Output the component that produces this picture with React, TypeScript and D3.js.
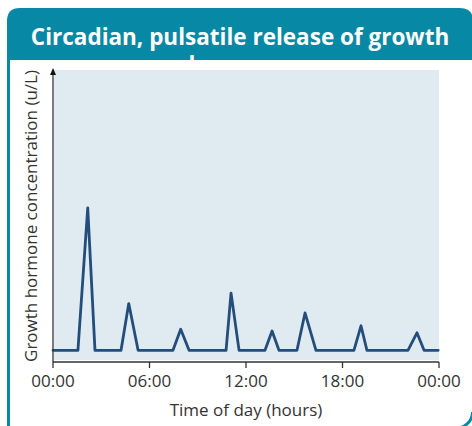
import React, { useEffect, useRef } from "react";
import * as d3 from "d3";

// time of day (hours) and GH concentration (arbitrary units)
const hours = [
  0, 1.55, 2.16, 2.61, 4.23, 4.71, 5.29, 7.46, 7.94, 8.46, 10.76, 11.07, 11.57,
  13.18, 13.62, 14.05, 15.17, 15.67, 16.35, 18.71, 19.15, 19.52, 22.07, 22.63,
  23.07, 23.95,
];
const concentration = [
  1, 1, 13.2, 1, 1, 5.0, 1, 1, 2.8, 1, 1, 5.9, 1, 1, 2.65, 1, 1, 4.2, 1, 1, 3.1,
  1, 1, 2.5, 1, 1,
];
const tickHours = [0, 6, 12, 18, 24];
const tickLabels = ["00:00", "06:00", "12:00", "18:00", "00:00"];

const W = 472;
const H = 426;
const TEAL = "#0788a4";
const FONT = "'Open Sans', 'Noto Sans', sans-serif";

const App = () => {
  const ref = useRef<SVGSVGElement>(null);

  useEffect(() => {
    const svg = d3.select(ref.current);
    svg.selectAll("*").remove();

    // header: teal box with rounded top corners
    const r = 13;
    svg.append("path")
      .attr("d", `M7,60 V${8 + r} Q7,8 ${7 + r},8 H${473 - r} Q473,8 473,${8 + r} V60 Z`)
      .attr("fill", TEAL);

    svg.append("text")
      .attr("x", 240).attr("y", 45)
      .attr("text-anchor", "middle")
      .attr("fill", "#fff")
      .style("font", `bold 22.5px ${FONT}`)
      .text("Circadian, pulsatile release of growth");
    // second title line, mostly hidden under the panel
    svg.append("text")
      .attr("x", 240).attr("y", 73)
      .attr("text-anchor", "middle")
      .attr("fill", "#fff")
      .style("font", `bold 22.5px ${FONT}`)
      .text("hormone");
    svg.append("rect")
      .attr("x", 10).attr("y", 60)
      .attr("width", 462).attr("height", 30)
      .attr("fill", "#fff");

    // left border and the bottom-right corner of the card
    svg.append("rect")
      .attr("x", 7).attr("y", 40)
      .attr("width", 3).attr("height", 400)
      .attr("fill", TEAL);
    svg.append("path")
      .attr("d", "M472.5,412 A16,16 0 0 1 456.5,428")
      .attr("fill", "none")
      .attr("stroke", TEAL)
      .attr("stroke-width", 3);

    const x = d3.scaleLinear().domain([0, 24]).range([53, 439]);
    const y = d3.scaleLinear().domain([0, 25]).range([362, 70]);

    const g = svg.append("g");

    g.append("rect")
      .attr("x", x(0) + 1).attr("y", y(25))
      .attr("width", x(24) - x(0) - 1).attr("height", y(0) - y(25) - 2)
      .attr("fill", "#dfeaf1");

    const line = d3.line<number>()
      .x((_, i) => x(hours[i]))
      .y((d) => y(d));

    g.append("path")
      .datum(concentration)
      .attr("d", line)
      .attr("fill", "none")
      .attr("stroke", "#234d7b")
      .attr("stroke-width", 2.8)
      .attr("stroke-linejoin", "round")
      .attr("stroke-linecap", "round");

    // axes
    const xAxis = g.append("g").attr("transform", `translate(0,${y(0)})`);
    xAxis.append("line")
      .attr("x1", x(0)).attr("x2", x(24))
      .attr("stroke", "#333").attr("stroke-width", 1.3);
    tickHours.forEach((h, i) => {
      xAxis.append("line")
        .attr("x1", x(h)).attr("x2", x(h))
        .attr("y1", 0).attr("y2", 6)
        .attr("stroke", "#333").attr("stroke-width", 1.3);
      xAxis.append("text")
        .attr("x", x(h)).attr("y", 25)
        .attr("text-anchor", "middle")
        .attr("fill", "#333")
        .style("font", `17px ${FONT}`)
        .text(tickLabels[i]);
    });

    g.append("line")
      .attr("x1", x(0)).attr("x2", x(0))
      .attr("y1", y(0)).attr("y2", y(25) + 2)
      .attr("stroke", "#333").attr("stroke-width", 1.3);
    g.append("path")
      .attr("d", `M${x(0)},${y(25) - 2} l-3,7 h6 z`)
      .attr("fill", "#111");

    g.append("text")
      .attr("x", x(12)).attr("y", 416)
      .attr("text-anchor", "middle")
      .attr("fill", "#333")
      .style("font", `17px ${FONT}`)
      .text("Time of day (hours)");

    g.append("text")
      .attr("transform", `translate(37,${(y(0) + y(25)) / 2}) rotate(-90)`)
      .attr("text-anchor", "middle")
      .attr("fill", "#333")
      .style("font", `17px ${FONT}`)
      .text("Growth hormone concentration (u/L)");
  }, []);

  return (
    <svg
      ref={ref}
      width={W}
      height={H}
      style={{ position: "absolute", left: 0, top: 0, display: "block", background: "#fff" }}
    />
  );
};

export default App;
